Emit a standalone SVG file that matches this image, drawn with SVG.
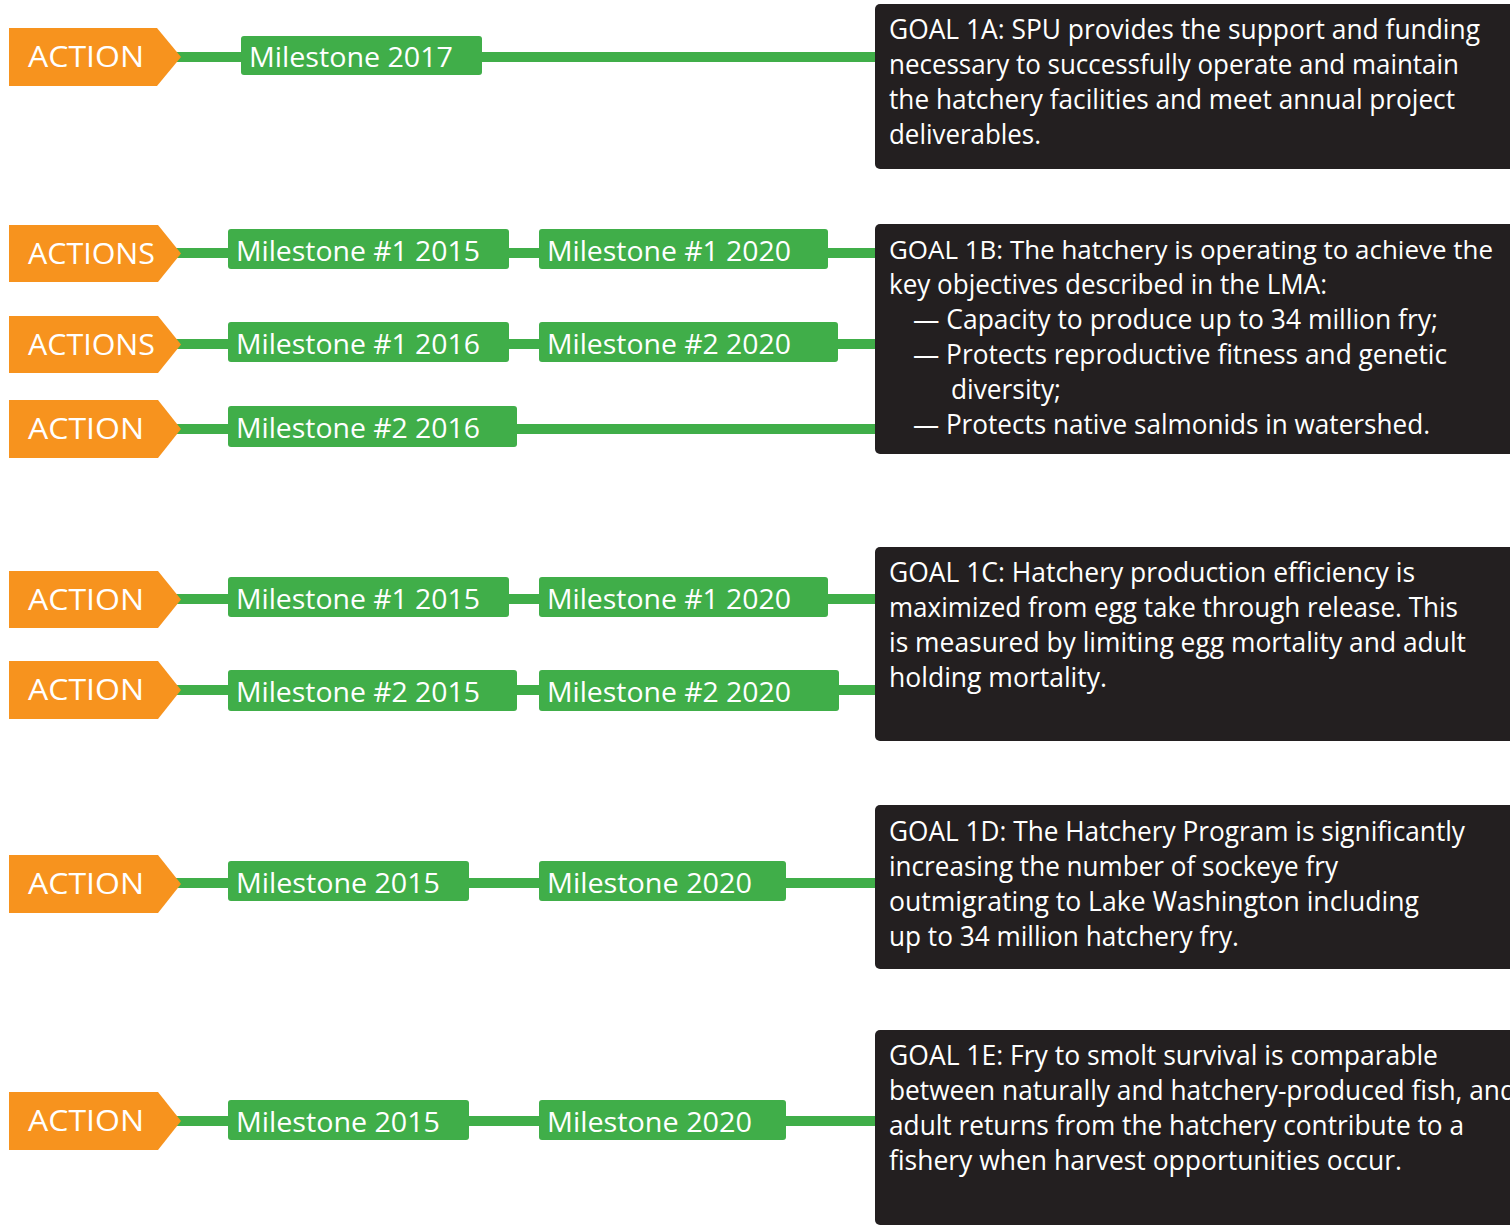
<svg xmlns="http://www.w3.org/2000/svg" width="1510" height="1225" viewBox="0 0 1510 1225">
  <style>
    .link { stroke: #40ae49; stroke-width: 10; fill: none; }
    .action { fill: #f7931e; }
    .ms { fill: #40ae49; }
    .goal { fill: #231f20; }
    text { font-family: "Open Sans", "Noto Sans", "DejaVu Sans", sans-serif; fill: #ffffff; }
    .at { font-size: 30px; }
    .mt { font-size: 28px; }
    .gt { font-size: 27px; }
    .gt-tight { font-size: 26px; }
  </style>

  <!-- connectors: green timelines running from each action to its goal -->
  <g id="connectors">
    <line class="link" x1="170" y1="57" x2="878" y2="57"/>
    <line class="link" x1="170" y1="253" x2="878" y2="253"/>
    <line class="link" x1="170" y1="344" x2="878" y2="344"/>
    <line class="link" x1="170" y1="429" x2="878" y2="429"/>
    <line class="link" x1="170" y1="599" x2="878" y2="599"/>
    <line class="link" x1="170" y1="690" x2="878" y2="690"/>
    <line class="link" x1="170" y1="883" x2="878" y2="883"/>
    <line class="link" x1="170" y1="1121" x2="878" y2="1121"/>
  </g>

  <!-- action arrows -->
  <g id="action-1a">
    <polygon class="action" points="9,28 157,28 181,57 157,86 9,86"/>
    <text class="at" x="28" y="67" textLength="116" lengthAdjust="spacingAndGlyphs">ACTION</text>
  </g>
  <g id="action-1b-1">
    <polygon class="action" points="9,225 158,225 181,253.5 158,282 9,282"/>
    <text class="at" x="28" y="264" textLength="127" lengthAdjust="spacingAndGlyphs">ACTIONS</text>
  </g>
  <g id="action-1b-2">
    <polygon class="action" points="9,316 158,316 181,344.5 158,373 9,373"/>
    <text class="at" x="28" y="355" textLength="127" lengthAdjust="spacingAndGlyphs">ACTIONS</text>
  </g>
  <g id="action-1b-3">
    <polygon class="action" points="9,400 158,400 181,429 158,458 9,458"/>
    <text class="at" x="28" y="439" textLength="116" lengthAdjust="spacingAndGlyphs">ACTION</text>
  </g>
  <g id="action-1c-1">
    <polygon class="action" points="9,571 158,571 181,599.5 158,628 9,628"/>
    <text class="at" x="28" y="610" textLength="116" lengthAdjust="spacingAndGlyphs">ACTION</text>
  </g>
  <g id="action-1c-2">
    <polygon class="action" points="9,661 158,661 181,690 158,719 9,719"/>
    <text class="at" x="28" y="700" textLength="116" lengthAdjust="spacingAndGlyphs">ACTION</text>
  </g>
  <g id="action-1d">
    <polygon class="action" points="9,855 158,855 181,884 158,913 9,913"/>
    <text class="at" x="28" y="894" textLength="116" lengthAdjust="spacingAndGlyphs">ACTION</text>
  </g>
  <g id="action-1e">
    <polygon class="action" points="9,1092 158,1092 181,1121 158,1150 9,1150"/>
    <text class="at" x="28" y="1131" textLength="116" lengthAdjust="spacingAndGlyphs">ACTION</text>
  </g>

  <!-- milestones -->
  <g id="ms-1a-2017">
    <rect class="ms" x="241" y="36" width="241" height="39" rx="3"/>
    <text class="mt" x="249" y="67" textLength="204" lengthAdjust="spacingAndGlyphs">Milestone 2017</text>
  </g>
  <g id="ms-1b-1-2015">
    <rect class="ms" x="228" y="229" width="281" height="40" rx="3"/>
    <text class="mt" x="236" y="261" textLength="244" lengthAdjust="spacingAndGlyphs">Milestone #1 2015</text>
  </g>
  <g id="ms-1b-1-2020">
    <rect class="ms" x="539" y="229" width="289" height="40" rx="3"/>
    <text class="mt" x="547" y="261" textLength="244" lengthAdjust="spacingAndGlyphs">Milestone #1 2020</text>
  </g>
  <g id="ms-1b-1-2016">
    <rect class="ms" x="228" y="322" width="281" height="40" rx="3"/>
    <text class="mt" x="236" y="354" textLength="244" lengthAdjust="spacingAndGlyphs">Milestone #1 2016</text>
  </g>
  <g id="ms-1b-2-2020">
    <rect class="ms" x="539" y="322" width="299" height="40" rx="3"/>
    <text class="mt" x="547" y="354" textLength="244" lengthAdjust="spacingAndGlyphs">Milestone #2 2020</text>
  </g>
  <g id="ms-1b-2-2016">
    <rect class="ms" x="228" y="406" width="289" height="41" rx="3"/>
    <text class="mt" x="236" y="438" textLength="244" lengthAdjust="spacingAndGlyphs">Milestone #2 2016</text>
  </g>
  <g id="ms-1c-1-2015">
    <rect class="ms" x="228" y="577" width="281" height="40" rx="3"/>
    <text class="mt" x="236" y="609" textLength="244" lengthAdjust="spacingAndGlyphs">Milestone #1 2015</text>
  </g>
  <g id="ms-1c-1-2020">
    <rect class="ms" x="539" y="577" width="289" height="40" rx="3"/>
    <text class="mt" x="547" y="609" textLength="244" lengthAdjust="spacingAndGlyphs">Milestone #1 2020</text>
  </g>
  <g id="ms-1c-2-2015">
    <rect class="ms" x="228" y="670" width="289" height="41" rx="3"/>
    <text class="mt" x="236" y="702" textLength="244" lengthAdjust="spacingAndGlyphs">Milestone #2 2015</text>
  </g>
  <g id="ms-1c-2-2020">
    <rect class="ms" x="539" y="670" width="300" height="41" rx="3"/>
    <text class="mt" x="547" y="702" textLength="244" lengthAdjust="spacingAndGlyphs">Milestone #2 2020</text>
  </g>
  <g id="ms-1d-2015">
    <rect class="ms" x="228" y="861" width="241" height="40" rx="3"/>
    <text class="mt" x="236" y="893" textLength="204" lengthAdjust="spacingAndGlyphs">Milestone 2015</text>
  </g>
  <g id="ms-1d-2020">
    <rect class="ms" x="539" y="861" width="247" height="40" rx="3"/>
    <text class="mt" x="547" y="893" textLength="205" lengthAdjust="spacingAndGlyphs">Milestone 2020</text>
  </g>
  <g id="ms-1e-2015">
    <rect class="ms" x="228" y="1100" width="241" height="40" rx="3"/>
    <text class="mt" x="236" y="1132" textLength="204" lengthAdjust="spacingAndGlyphs">Milestone 2015</text>
  </g>
  <g id="ms-1e-2020">
    <rect class="ms" x="539" y="1100" width="247" height="40" rx="3"/>
    <text class="mt" x="547" y="1132" textLength="205" lengthAdjust="spacingAndGlyphs">Milestone 2020</text>
  </g>

  <!-- goals -->
  <g id="goal-1a">
    <rect class="goal" x="875" y="4" width="645" height="165" rx="5"/>
    <text class="gt" x="889" y="39" textLength="591" lengthAdjust="spacingAndGlyphs">GOAL 1A: SPU provides the support and funding</text>
    <text class="gt" x="889" y="74" textLength="570" lengthAdjust="spacingAndGlyphs">necessary to successfully operate and maintain</text>
    <text class="gt" x="889" y="109" textLength="566" lengthAdjust="spacingAndGlyphs">the hatchery facilities and meet annual project</text>
    <text class="gt" x="889" y="144" textLength="152" lengthAdjust="spacingAndGlyphs">deliverables.</text>
  </g>
  <g id="goal-1b">
    <rect class="goal" x="875" y="224" width="645" height="230" rx="5"/>
    <text class="gt-tight" x="889" y="259" textLength="604" lengthAdjust="spacingAndGlyphs">GOAL 1B: The hatchery is operating to achieve the</text>
    <text class="gt" x="889" y="294" textLength="438" lengthAdjust="spacingAndGlyphs">key objectives described in the LMA:</text>
    <text class="gt" x="913" y="329" textLength="525" lengthAdjust="spacingAndGlyphs">— Capacity to produce up to 34 million fry;</text>
    <text class="gt" x="913" y="364" textLength="534" lengthAdjust="spacingAndGlyphs">— Protects reproductive fitness and genetic</text>
    <text class="gt" x="951" y="399" textLength="110" lengthAdjust="spacingAndGlyphs">diversity;</text>
    <text class="gt" x="913" y="434" textLength="517" lengthAdjust="spacingAndGlyphs">— Protects native salmonids in watershed.</text>
  </g>
  <g id="goal-1c">
    <rect class="goal" x="875" y="547" width="645" height="194" rx="5"/>
    <text class="gt" x="889" y="582" textLength="526" lengthAdjust="spacingAndGlyphs">GOAL 1C: Hatchery production efficiency is</text>
    <text class="gt" x="889" y="617" textLength="569" lengthAdjust="spacingAndGlyphs">maximized from egg take through release. This</text>
    <text class="gt" x="889" y="652" textLength="577" lengthAdjust="spacingAndGlyphs">is measured by limiting egg mortality and adult</text>
    <text class="gt" x="889" y="687" textLength="218" lengthAdjust="spacingAndGlyphs">holding mortality.</text>
  </g>
  <g id="goal-1d">
    <rect class="goal" x="875" y="805" width="645" height="164" rx="5"/>
    <text class="gt" x="889" y="841" textLength="576" lengthAdjust="spacingAndGlyphs">GOAL 1D: The Hatchery Program is significantly</text>
    <text class="gt" x="889" y="876" textLength="449" lengthAdjust="spacingAndGlyphs">increasing the number of sockeye fry</text>
    <text class="gt" x="889" y="911" textLength="530" lengthAdjust="spacingAndGlyphs">outmigrating to Lake Washington including</text>
    <text class="gt" x="889" y="946" textLength="350" lengthAdjust="spacingAndGlyphs">up to 34 million hatchery fry.</text>
  </g>
  <g id="goal-1e">
    <rect class="goal" x="875" y="1030" width="645" height="195" rx="5"/>
    <text class="gt" x="889" y="1065" textLength="549" lengthAdjust="spacingAndGlyphs">GOAL 1E:  Fry to smolt survival is comparable</text>
    <text class="gt" x="889" y="1100" textLength="627" lengthAdjust="spacingAndGlyphs">between naturally and hatchery-produced fish, and</text>
    <text class="gt" x="889" y="1135" textLength="575" lengthAdjust="spacingAndGlyphs">adult returns from the hatchery  contribute to a</text>
    <text class="gt" x="889" y="1170" textLength="513" lengthAdjust="spacingAndGlyphs">fishery when harvest  opportunities occur.</text>
  </g>
</svg>
